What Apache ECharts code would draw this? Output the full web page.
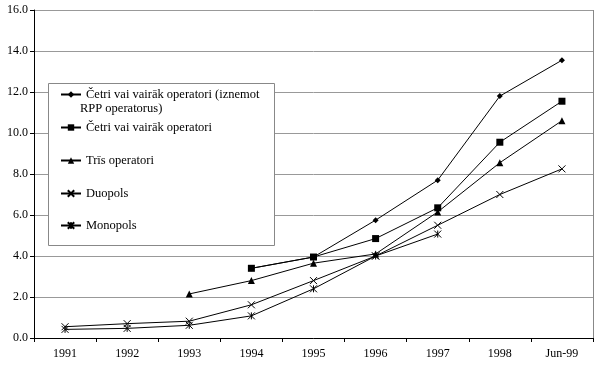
<!DOCTYPE html>
<html><head><meta charset="utf-8">
<script src="https://cdn.jsdelivr.net/npm/echarts@6/dist/echarts.min.js"></script>
<style>html,body{margin:0;padding:0;background:#fff}#c{width:600px;height:365px}</style>
</head><body><div id="c"></div>
<script>
const categories = ['1991','1992','1993','1994','1995','1996','1997','1998','Jun-99'];
const yTicks = [0,2,4,6,8,10,12,14,16];
const names = ['Četri vai vairāk operatori (iznemot RPP operatorus)','Četri vai vairāk operatori','Trīs operatori','Duopols','Monopols'];
const fourPlusExRPP = [null,null,null,3.4,3.95,5.75,7.7,11.8,13.55];
const fourPlus = [null,null,null,3.4,3.95,4.85,6.35,9.55,11.55];
const three = [null,null,2.15,2.8,3.65,4.1,6.15,8.55,10.6];
const duopoly = [0.55,0.7,0.82,1.62,2.8,4.0,5.5,7.0,8.25];
const monopoly = [0.42,0.47,0.62,1.08,2.4,4.0,5.07,null,null];

const font = 'Liberation Serif, Times New Roman, serif';
const xPath = 'path://M0,0L10,10M10,0L0,10';
const starPath = 'path://M0,0L10,10M10,0L0,10M5,0L5,10';
const symbols = [['diamond',6],['rect',7],['triangle',7],[xPath,7],[starPath,7]];
const dataSets = [fourPlusExRPP, fourPlus, three, duopoly, monopoly];

const series = dataSets.map((d,i)=>({
  name: names[i], type:'line', data:d, symbol:symbols[i][0], symbolSize:symbols[i][1],
  lineStyle:{color:'#000',width:1}, itemStyle:{color:'#000',borderColor:'#000',borderWidth:i>=3?1:0},
  emphasis:{disabled:true}, animation:false, connectNulls:false
}));

const legendTops = [83,116,149,182,214];
const legends = names.map((n,i)=>({
  data:[n], left:55, top:legendTops[i], itemWidth:20, itemHeight:8, itemGap:0, z:10,
  textStyle:{fontFamily:font,fontSize:12.5,color:'#000'},
  formatter: i===0 ? 'Četri vai vairāk operatori (iznemot' : undefined,
  selectedMode:false
}));

const chart = echarts.init(document.getElementById('c'));
chart.setOption({
  animation:false,
  grid:{left:34,right:7,top:10,bottom:27},
  xAxis:{type:'category',data:categories,boundaryGap:true,
    axisLine:{lineStyle:{color:'#000',width:1}},
    axisTick:{show:true,length:4,lineStyle:{color:'#000'}},
    axisLabel:{fontFamily:font,fontSize:12,color:'#000',margin:10}},
  yAxis:{type:'value',min:0,max:16,interval:2,
    axisLine:{show:true,lineStyle:{color:'#000',width:1}},
    axisTick:{show:true,length:4,lineStyle:{color:'#000'}},
    splitLine:{lineStyle:{color:'#999',width:1}},
    axisLabel:{fontFamily:font,fontSize:12,color:'#000',margin:6,formatter:v=>v.toFixed(1)}},
  legend:legends,
  graphic:[
    {type:'rect',shape:{x:48.5,y:83.5,width:226,height:162},style:{fill:'#fff',stroke:'#888',lineWidth:1},z:3},
    {type:'rect',shape:{x:593.5,y:10,width:0,height:328},style:{stroke:'#888',lineWidth:1,fill:null},z:3},
    {type:'text',left:80,top:102,style:{text:'RPP operatorus)',font:'12.5px '+font,fill:'#000'},z:20}
  ],
  series:series
});
</script></body></html>
